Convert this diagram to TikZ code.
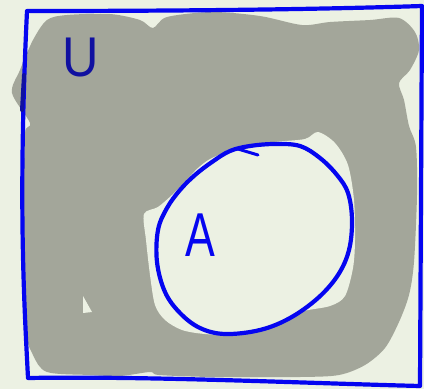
\documentclass[tikz,border=0pt]{standalone}
\usepackage{fontspec}
\setmainfont{Liberation Sans}
\definecolor{bgc}{HTML}{ECF1E3}
\definecolor{grayc}{HTML}{A3A69A}
\definecolor{bluec}{HTML}{0505F0}
\definecolor{darkbluec}{HTML}{1010A0}
\begin{document}
\begin{tikzpicture}[x=1pt,y=-1pt,
  bluestroke/.style={draw=bluec,line width=4.2pt,line cap=round,line join=round},
  lbl/.style={inner sep=0pt,anchor=center}]
\useasboundingbox (0,0) rectangle (424,389);
\fill[bgc] (0,0) rectangle (424,389);
% gray shading of the complement
\fill[grayc] plot[smooth cycle,tension=0.5] coordinates {
 (47,20) (67,15) (110,14) (140,20) (153,28) (167,17) (212,12) (260,16) (302,25)
 (330,22) (370,20) (399,18) (415,32) (419,50) (410,70) (399,83) (404,100)
 (409,126) (416,147) (417,195) (414,262) (409,295) (399,322) (385,348)
 (365,365) (339,375) (300,377) (212,377) (159,375) (150,372) (120,376) (90,375)
 (47,372) (33,355) (25,328) (24,250) (24,190) (25,133) (30,123) (12,93)
 (20,70) (33,40)};
% light hole around A
\fill[bgc] plot[smooth cycle,tension=0.5] coordinates {
 (212,158) (240,148) (275,142) (305,139) (318,132) (335,143) (348,165)
 (354,200) (355,240) (353,268) (345,296) (330,306) (300,312) (275,325)
 (240,335) (205,334) (182,330) (165,320) (155,305) (150,275) (146,240)
 (144,214) (158,207) (172,195) (185,182) (198,168)};
\fill[bgc] (83,296) -- (83,313) -- (92,312) -- cycle;
% universe rectangle
\draw[bluestroke] (27,11) .. controls (150,11) and (300,10) .. (422,6)
  -- (420,386) .. controls (300,383) and (150,376) .. (28,378)
  .. controls (24,300) and (18,200) .. (27,11) -- cycle;
\draw[darkbluec,line width=4pt,line cap=round] (24,75) -- (22,110);
% set A
\draw[bluestroke] plot[smooth cycle,tension=0.6] coordinates {
 (212,162) (230,151) (250,146) (275,144) (300,146) (320,158) (337,175)
 (348,193) (352,220) (349,250) (338,275) (318,298) (290,318) (260,330)
 (225,334) (200,328) (180,313) (165,292) (157,262) (158,230) (167,208)
 (180,190) (195,175)};
\draw[bluestroke,line width=3pt] (238,149) -- (258,155);
% labels
\node[lbl,text=darkbluec,font=\fontsize{56}{56}\selectfont,xscale=0.9] (U) at (81,58) {U};
\node[lbl,text=bluec,font=\fontsize{62}{62}\selectfont,xscale=0.72] (A) at (200,235) {A};
\end{tikzpicture}
\end{document}
